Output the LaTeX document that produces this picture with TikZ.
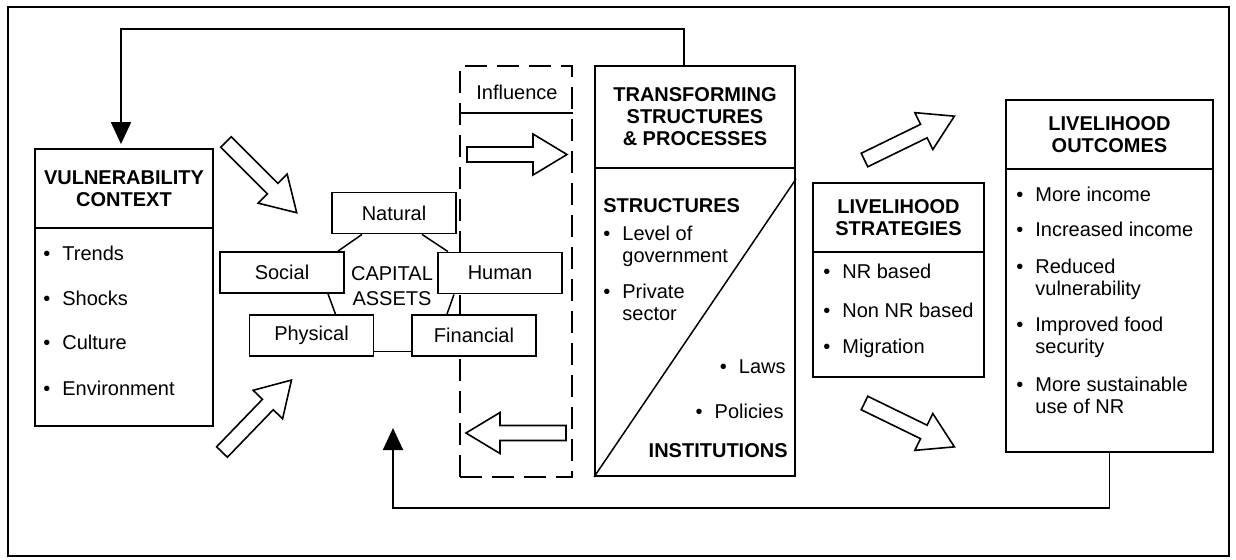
\documentclass[tikz,border=0pt]{standalone}
\usepackage{fontspec}
\setmainfont{Liberation Sans}
\usetikzlibrary{arrows.meta}

\newcommand{\bul}{\makebox[9.5pt][l]{\textbullet}}
\newcommand{\twolines}[2]{\begin{tabular}[t]{@{}l@{}}#1\\#2\end{tabular}}

\begin{document}
\begin{tikzpicture}[x=0.5pt,y=-0.5pt,
  every node/.style={font=\fontsize{10}{11}\selectfont},
  box/.style={draw, line width=0.9pt, inner sep=0pt, fill=white},
  headbox/.style={box, align=center, font=\fontsize{10}{11}\selectfont\bfseries},
  asset/.style={box, minimum width=62pt, minimum height=20.5pt},
  item/.style={inner sep=0pt, anchor=base west},
  ritem/.style={inner sep=0pt, anchor=base east},
  boldtext/.style={font=\fontsize{10}{11}\selectfont\bfseries},
  feedback/.style={line width=0.9pt, -{Triangle[length=11pt,width=10pt]}},
  link/.style={line width=0.75pt},
  blockline/.style={line width=0.8pt, fill=white, line join=miter},
  blockarrow/.pic={\draw[blockline] (0,-7.5) -- (66,-7.5) -- (66,-20.5) -- (100,0) -- (66,20.5) -- (66,7.5) -- (0,7.5) -- cycle;}]
\useasboundingbox (0,0) rectangle (1236,559);
\draw[line width=0.9pt] (8,7) rectangle (1229,556);

% vulnerability context
\node[headbox, minimum width=89pt, minimum height=39.5pt] (vulnhead) at (124,188.5) {VULNERABILITY\\CONTEXT};
\node[box, minimum width=89pt, minimum height=99pt] (vulnbody) at (124,327) {};
\node[item] (trends) at (43,260) {\bul Trends};
\node[item] (shocks) at (43,305) {\bul Shocks};
\node[item] (culture) at (43,349) {\bul Culture};
\node[item] (environment) at (43,395) {\bul Environment};

% influence zone
\node[draw, line width=0.9pt, dash pattern=on 11pt off 5pt, minimum width=56pt, minimum height=205.5pt] (influencezone) at (516,271.5) {};
\node[inner sep=0pt] (influence) at (517,92) {Influence};
\coordinate (influencesep) at (516,113);
\draw[line width=0.9pt] (influencesep -| influencezone.west) -- (influencesep -| influencezone.east);

% capital assets
\node[asset] (natural) at (394,213) {Natural};
\node[asset] (social) at (282,272.5) {Social};
\node[asset] (human) at (500,273) {Human};
\node[asset] (physical) at (311.5,335.5) {Physical};
\node[asset] (financial) at (474,335.5) {Financial};
\node[align=center, inner sep=0pt] (capital) at (392,286.5) {CAPITAL\\[1.5pt]ASSETS};
\draw[link] ([xshift=-16pt]natural.south) -- ([xshift=28pt]social.north);
\draw[link] ([xshift=14pt]natural.south) -- ([xshift=-26pt]human.north);
\draw[link] ([xshift=23pt]social.south) -- ([xshift=12pt]physical.north);
\draw[link] ([xshift=-23pt]human.south) -- ([xshift=-13.5pt]financial.north);
\draw[link] ([yshift=-8pt]physical.east) -- ([yshift=-8pt]financial.west);

% transforming structures and processes
\node[headbox, minimum width=100pt, minimum height=51pt] (tsphead) at (695,117) {TRANSFORMING\\STRUCTURES\\\& PROCESSES};
\node[box, minimum width=100pt, minimum height=154pt] (tspbody) at (695,322) {};
\draw[link] (tspbody.south west) -- ([yshift=-6pt]tspbody.north east);
\node[item, boldtext] (structures) at (603,212) {STRUCTURES};
\node[item] (government) at (603,240) {\bul\twolines{Level of}{government}};
\node[item] (private) at (603,298) {\bul\twolines{Private}{sector}};
\node[ritem] (laws) at (786,373) {\bul Laws};
\node[ritem] (policies) at (784,418) {\bul Policies};
\node[ritem, boldtext] (institutions) at (788,457) {INSTITUTIONS};

% livelihood strategies
\node[headbox, minimum width=85.5pt, minimum height=34.5pt] (strathead) at (898.5,217.5) {LIVELIHOOD\\STRATEGIES};
\node[box, minimum width=85.5pt, minimum height=62.5pt] (stratbody) at (898.5,314.5) {};
\node[item] (nrbased) at (823,278) {\bul NR based};
\node[item] (nonnr) at (823,317) {\bul Non NR based};
\node[item] (migration) at (823,353) {\bul Migration};

% livelihood outcomes
\node[headbox, minimum width=103.5pt, minimum height=34.5pt] (outhead) at (1109.5,134.5) {LIVELIHOOD\\OUTCOMES};
\node[box, minimum width=103.5pt, minimum height=141.5pt] (outbody) at (1109.5,310.5) {};
\node[item] (income) at (1016,201) {\bul More income};
\node[item] (incincome) at (1016,236) {\bul Increased income};
\node[item] (reduced) at (1016,273) {\bul\twolines{Reduced}{vulnerability}};
\node[item] (food) at (1016,331) {\bul\twolines{Improved food}{security}};
\node[item] (sustain) at (1016,391) {\bul\twolines{More sustainable}{use of NR}};

% block arrows
\pic[rotate=-45] at (226,142) {blockarrow};
\pic[rotate=46] at (222,452) {blockarrow};
\pic at (467,154.5) {blockarrow};
\pic[rotate=180] at (566,433) {blockarrow};
\pic[rotate=26] at (864.5,160) {blockarrow};
\pic[rotate=-26] at (864.5,403) {blockarrow};

% feedback loops
\coordinate (topturn) at (121,29);
\coordinate (bottomturn) at (393,508);
\coordinate (assetsin) at (393,428);
\draw[feedback, shorten >=2pt] ([xshift=-5.5pt]tsphead.north) |- (topturn) -- ([xshift=-1.5pt]vulnhead.north);
\draw[feedback] (outbody.south) |- (bottomturn) -- (assetsin);
\end{tikzpicture}
\end{document}
